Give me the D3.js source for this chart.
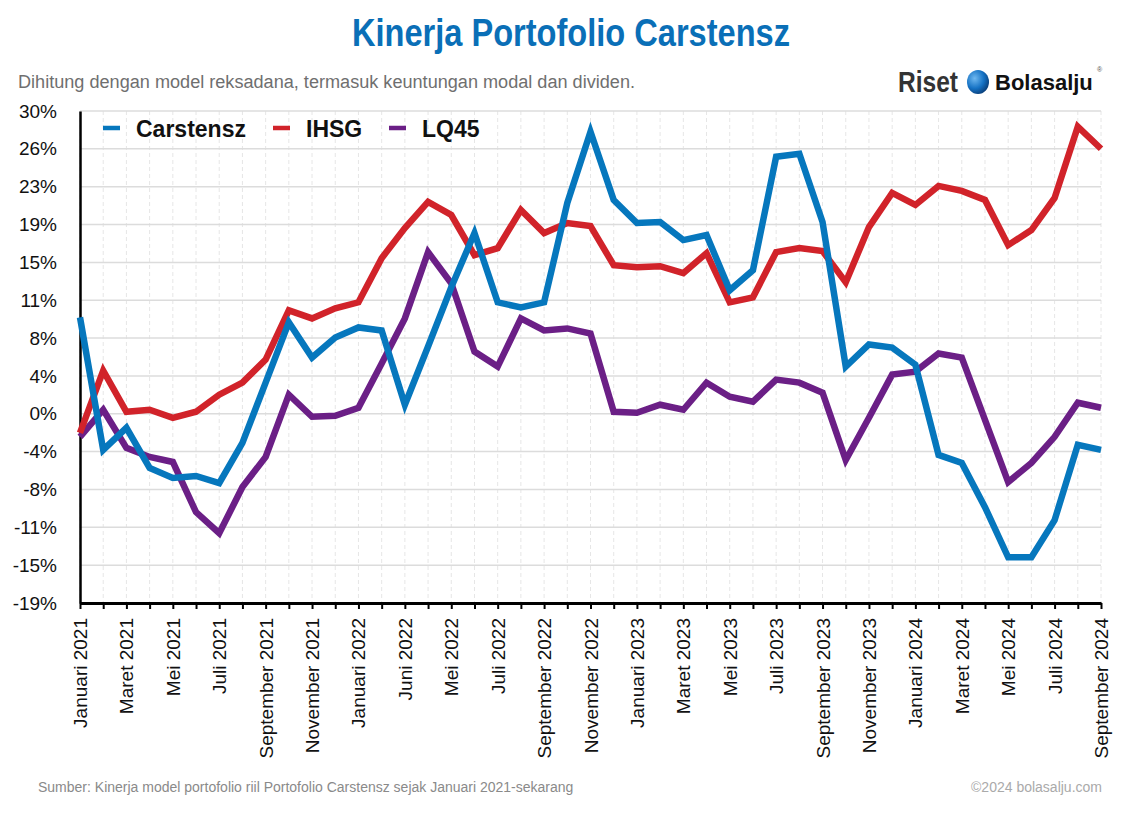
<!DOCTYPE html>
<html>
<head>
<meta charset="utf-8">
<script src="https://cdn.jsdelivr.net/npm/d3@7"></script>
<style>
  html, body { margin: 0; padding: 0; background: #fff; }
  svg { display: block; font-family: "Liberation Sans", Arial, Helvetica, sans-serif; }
</style>
</head>
<body>
<svg id="chart" width="1132" height="816"></svg>
<script>
// ---------- DATA ----------
const months = [
  "Januari 2021","Februari 2021","Maret 2021","April 2021","Mei 2021","Juni 2021","Juli 2021","Agustus 2021","September 2021","Oktober 2021","November 2021","Desember 2021",
  "Januari 2022","Februari 2022","Maret 2022","April 2022","Mei 2022","Juni 2022","Juli 2022","Agustus 2022","September 2022","Oktober 2022","November 2022","Desember 2022",
  "Januari 2023","Februari 2023","Maret 2023","April 2023","Mei 2023","Juni 2023","Juli 2023","Agustus 2023","September 2023","Oktober 2023","November 2023","Desember 2023",
  "Januari 2024","Februari 2024","Maret 2024","April 2024","Mei 2024","Juni 2024","Juli 2024","Agustus 2024","September 2024"
];
// labels shown on the x axis (every other month, as printed in the original)
const xTickLabels = [
  "Januari 2021","Maret 2021","Mei 2021","Juli 2021","September 2021","November 2021",
  "Januari 2022","Juni 2022","Mei 2022","Juli 2022","September 2022","November 2022",
  "Januari 2023","Maret 2023","Mei 2023","Juli 2023","September 2023","November 2023",
  "Januari 2024","Maret 2024","Mei 2024","Juli 2024","September 2024"
];
const carstensz = [9.6,-3.6,-1.4,-5.4,-6.4,-6.2,-6.9,-2.9,3.1,9.1,5.6,7.6,
  8.6,8.3,0.9,6.7,12.6,18.0,11.1,10.6,11.1,21.0,28.1,21.3,
  19.0,19.1,17.3,17.8,12.3,14.3,25.6,25.9,19.1,4.7,6.9,6.6,
  4.9,-4.1,-4.9,-9.3,-14.3,-14.3,-10.6,-3.1,-3.6];
const ihsg = [-1.9,4.3,0.2,0.4,-0.4,0.2,1.9,3.1,5.4,10.3,9.5,10.5,
  11.1,15.5,18.5,21.1,19.8,15.8,16.5,20.3,18.0,19.0,18.7,14.8,
  14.6,14.7,14.0,16.0,11.1,11.6,16.1,16.5,16.2,13.1,18.6,22.0,
  20.8,22.7,22.2,21.3,16.8,18.3,21.5,28.6,26.4];
const lq45 = [-2.3,0.4,-3.4,-4.3,-4.8,-9.8,-11.9,-7.3,-4.3,1.9,-0.3,-0.2,
  0.6,5.0,9.5,16.1,13.0,6.2,4.7,9.5,8.3,8.5,8.0,0.2,
  0.1,0.9,0.4,3.1,1.7,1.2,3.4,3.1,2.1,-4.6,-0.4,3.9,
  4.2,6.0,5.6,-0.6,-6.8,-4.9,-2.3,1.1,0.6];
const yTickValues = [-18.85,-15.08,-11.31,-7.54,-3.77,0,3.77,7.54,11.31,15.08,18.85,22.62,26.39,30.16];
const yTickLabels = ["-19%","-15%","-11%","-8%","-4%","0%","4%","8%","11%","15%","19%","23%","26%","30%"];
const seriesNames = ["Carstensz","IHSG","LQ45"];
const seriesColors = ["#0677bd","#d1232a","#6b1f86"];

// ---------- LAYOUT ----------
const svg = d3.select("#chart");
const W = 1132, H = 816;
const m = {left: 80, right: 31, top: 111, bottom: 213};
const iw = W - m.left - m.right, ih = H - m.top - m.bottom;

const x = d3.scaleLinear().domain([0, months.length - 1]).range([m.left, m.left + iw]);
const y = d3.scaleLinear().domain([yTickValues[0], yTickValues[yTickValues.length - 1]]).range([m.top + ih, m.top]);

// title + subtitle
svg.append("text").attr("x", 571).attr("y", 46).attr("text-anchor", "middle")
  .attr("font-size", 38).attr("font-weight", "bold").attr("fill", "#0a6fb7")
  .attr("textLength", 438).attr("lengthAdjust", "spacingAndGlyphs")
  .text("Kinerja Portofolio Carstensz");
svg.append("text").attr("x", 18).attr("y", 88).attr("font-size", 18).attr("fill", "#6f6f6f")
  .attr("textLength", 617).attr("lengthAdjust", "spacingAndGlyphs")
  .text("Dihitung dengan model reksadana, termasuk keuntungan modal dan dividen.");

// logo
const logo = svg.append("g");
logo.append("text").attr("x", 898).attr("y", 92).attr("font-size", 30).attr("font-weight", "bold")
  .attr("fill", "#333").attr("textLength", 60).attr("lengthAdjust", "spacingAndGlyphs").text("Riset");
const grad = svg.append("defs").append("radialGradient").attr("id", "ball").attr("cx", "35%").attr("cy", "35%").attr("r", "70%");
grad.append("stop").attr("offset", "0%").attr("stop-color", "#6fb8f0");
grad.append("stop").attr("offset", "60%").attr("stop-color", "#1572c4");
grad.append("stop").attr("offset", "100%").attr("stop-color", "#0a3f7a");
logo.append("ellipse").attr("cx", 978).attr("cy", 82).attr("rx", 11).attr("ry", 12).attr("fill", "url(#ball)");
logo.append("text").attr("x", 995).attr("y", 90).attr("font-size", 22).attr("font-weight", "bold")
  .attr("fill", "#111").text("Bolasalju");
logo.append("text").attr("x", 1097).attr("y", 72).attr("font-size", 7).attr("fill", "#555").text("®");

// grid
const grid = svg.append("g");
grid.selectAll("line.v").data(d3.range(months.length)).join("line")
  .attr("x1", d => x(d)).attr("x2", d => x(d)).attr("y1", m.top).attr("y2", m.top + ih)
  .attr("stroke", "#e6e6e6").attr("stroke-width", 1).attr("stroke-dasharray", "4,3");
grid.selectAll("line.h").data(yTickValues).join("line")
  .attr("x1", m.left).attr("x2", m.left + iw).attr("y1", d => y(d)).attr("y2", d => y(d))
  .attr("stroke", "#dcdcdc").attr("stroke-width", 1.5);

// axes
const yAxis = d3.axisLeft(y).tickValues(yTickValues).tickSize(0).tickPadding(23)
  .tickFormat((d, i) => yTickLabels[i]);
const gy = svg.append("g").attr("transform", `translate(${m.left},0)`).call(yAxis);
gy.select(".domain").attr("stroke", "#000").attr("stroke-width", 2.5);
gy.selectAll("text").attr("font-size", 19).attr("fill", "#111").attr("font-family", "Liberation Sans, Arial, sans-serif");

const xAxis = d3.axisBottom(x).tickValues(d3.range(months.length)).tickSize(6).tickSizeOuter(0)
  .tickFormat(() => "");
const gx = svg.append("g").attr("transform", `translate(0,${m.top + ih})`).call(xAxis);
gx.select(".domain").attr("stroke", "#000").attr("stroke-width", 3);
gx.selectAll(".tick line").attr("stroke", "#000").attr("stroke-width", 2);

// x labels (every other month)
const labelIdx = d3.range(0, months.length, 2);
svg.append("g").selectAll("text").data(labelIdx).join("text")
  .attr("transform", d => `translate(${x(d) + 7},${m.top + ih + 15}) rotate(-90)`)
  .attr("text-anchor", "end").attr("font-size", 19).attr("fill", "#111")
  .text((d, i) => xTickLabels[i]);

// lines
const allSeries = [carstensz, ihsg, lq45];
const line = d3.line().x((d, i) => x(i)).y(d => y(d));
const lines = svg.append("g");
[2, 1, 0].forEach(k => {
  lines.append("path").datum(allSeries[k]).attr("d", line)
    .attr("fill", "none").attr("stroke", seriesColors[k]).attr("stroke-width", 6.5)
    .attr("stroke-linejoin", "miter").attr("stroke-miterlimit", 4).attr("stroke-linecap", "butt");
});

// legend
const legendX = [103, 273, 389];
const lg = svg.append("g");
seriesNames.forEach((name, k) => {
  lg.append("line").attr("x1", legendX[k]).attr("x2", legendX[k] + 17).attr("y1", 128).attr("y2", 128)
    .attr("stroke", seriesColors[k]).attr("stroke-width", 4.5);
  lg.append("text").attr("x", legendX[k] + 33).attr("y", 137).attr("font-size", 23).attr("font-weight", "bold")
    .attr("fill", "#111").text(name);
});

// footer
svg.append("text").attr("x", 38).attr("y", 792).attr("font-size", 14).attr("fill", "#8a8a8a")
  .text("Sumber: Kinerja model portofolio riil Portofolio Carstensz sejak Januari 2021-sekarang");
svg.append("text").attr("x", 1102).attr("y", 792).attr("text-anchor", "end").attr("font-size", 14).attr("fill", "#aaaaaa")
  .text("©2024 bolasalju.com");
</script>
</body>
</html>
